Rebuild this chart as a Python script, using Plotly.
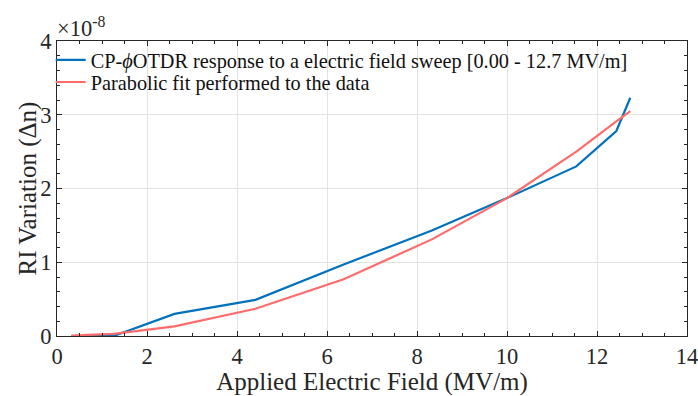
import plotly.graph_objects as go

# Data (RI variation in units of 1e-8)
field = [0.32, 1.26, 2.61, 4.41, 6.37, 8.33, 10.0, 11.54, 12.43, 12.74]
measured = [0.0, 0.0, 0.30, 0.49, 0.97, 1.43, 1.87, 2.30, 2.78, 3.23]
parabolic = [0.005, 0.03, 0.13, 0.37, 0.77, 1.31, 1.87, 2.50, 2.91, 3.05]

x_ticks = [0, 2, 4, 6, 8, 10, 12, 14]
y_ticks = [0, 1, 2, 3, 4]

FONT = "Liberation Serif"
AX = "#262626"

fig = go.Figure()
fig.add_trace(go.Scatter(
    x=field, y=measured, mode="lines",
    line=dict(color="#0072BD", width=2.2),
    name="CP-<i>ϕ</i>OTDR response to a electric field sweep [0.00 - 12.7 MV/m]",
    legend="legend"))
fig.add_trace(go.Scatter(
    x=field, y=parabolic, mode="lines",
    line=dict(color="#FF6B6B", width=2.2),
    name="Parabolic fit performed to the data",
    legend="legend2"))

axis_common = dict(
    showline=True, linecolor=AX, linewidth=1, mirror="ticks",
    ticks="inside", ticklen=5, tickcolor=AX, tickwidth=1,
    showgrid=True, gridcolor="#e3e3e3", gridwidth=1,
    zeroline=False, automargin=False, ticklabeloverflow="allow",
    tickfont=dict(family=FONT, size=22.5, color="#262626"),
)

fig.update_xaxes(
    range=[0, 14], tickvals=x_ticks, ticktext=[str(v) for v in x_ticks],
    minor=dict(dtick=0.5, ticks="inside", ticklen=3, tickcolor=AX, showgrid=False),
    title=dict(text="Applied Electric Field (MV/m)", font=dict(family=FONT, size=25, color="#262626"), standoff=2),
    **axis_common)
fig.update_yaxes(
    range=[0, 4], tickvals=y_ticks, ticktext=[str(v) for v in y_ticks],
    minor=dict(dtick=0.2, ticks="inside", ticklen=3, tickcolor=AX, showgrid=False),
    **axis_common)

# y-axis title placed as rotated text
fig.add_annotation(
    text="RI Variation (Δn)", xref="paper", yref="paper", x=0, y=0.5,
    xanchor="center", yanchor="middle", textangle=-90, showarrow=False,
    xshift=-30, font=dict(family=FONT, size=25, color="#262626"))

fig.add_annotation(
    text="×10<sup>-8</sup>", xref="paper", yref="paper", x=0, y=1.0,
    xanchor="left", yanchor="bottom", showarrow=False, yshift=-2, xshift=-2,
    font=dict(family=FONT, size=22.5, color="#262626"))

leg_common = dict(xanchor="left", yanchor="middle",
                  bgcolor="rgba(0,0,0,0)", borderwidth=0,
                  font=dict(family=FONT, size=20.3, color="#111111"),
                  itemwidth=30)

fig.update_layout(
    width=698, height=396,
    margin=dict(l=57, r=11, t=41, b=60),
    plot_bgcolor="white", paper_bgcolor="white",
    showlegend=True,
    legend=dict(x=-0.01, y=0.935, **leg_common),
    legend2=dict(x=-0.01, y=0.86, **leg_common),
)

fig.write_html("out.html", config={"displayModeBar": False},
               post_script="document.body.style.margin='0px';")
